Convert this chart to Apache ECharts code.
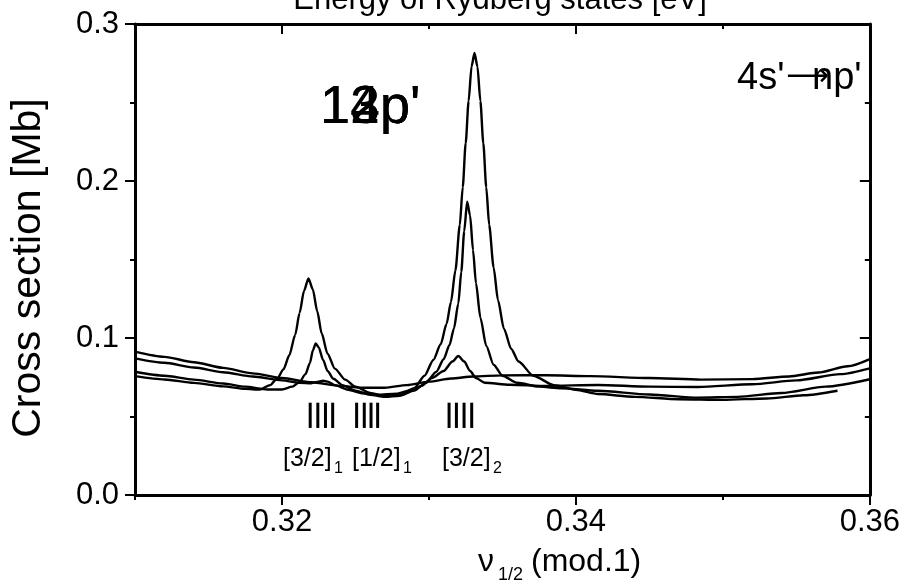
<!DOCTYPE html>
<html>
<head>
<meta charset="utf-8">
<title>Cross section vs effective quantum number</title>
<script src="https://cdn.jsdelivr.net/npm/echarts@6/dist/echarts.min.js"></script>
<style>
  html, body { margin: 0; padding: 0; background: #fff; }
  #chart { width: 903px; height: 584px; }
</style>
</head>
<body>
<div id="chart"></div>
<script>
// Photoionization cross sections [Mb] versus nu_1/2 (mod.1), 4s' -> np' excitation
const curve12 = [
  [0.3100,0.0757],[0.3120,0.0736],[0.3140,0.0714],[0.3160,0.0692],[0.3175,0.0676],
  [0.3185,0.0672],[0.3192,0.0700],[0.3197,0.0745],[0.3201,0.0800],[0.3205,0.0890],
  [0.3209,0.1020],[0.3212,0.1160],[0.3215,0.1300],[0.3218,0.1380],[0.3221,0.1310],
  [0.3224,0.1170],[0.3227,0.1030],[0.3231,0.0900],[0.3236,0.0805],[0.3243,0.0735],
  [0.3250,0.0690],[0.3260,0.0650],[0.3270,0.0630],[0.3280,0.0635],[0.3290,0.0680],
  [0.3297,0.0760],[0.3303,0.0860],[0.3308,0.0960],[0.3312,0.1090],[0.3315,0.1230],
  [0.3318,0.1430],[0.3321,0.1720],[0.3323,0.1960],[0.3325,0.2240],[0.3327,0.2510],
  [0.3329,0.2730],[0.3331,0.2815],[0.3333,0.2730],[0.3335,0.2510],[0.3337,0.2240],
  [0.3339,0.1960],[0.3341,0.1720],[0.3344,0.1450],[0.3347,0.1240],[0.3351,0.1060],
  [0.3356,0.0930],[0.3361,0.0850],[0.3371,0.0760],[0.3385,0.0700],[0.3400,0.0670],
  [0.3415,0.0643],[0.3440,0.0625],[0.3470,0.0610],[0.3500,0.0606],[0.3530,0.0615],
  [0.3555,0.0635],[0.3578,0.0664]
];
const curve13 = [
  [0.3100,0.0785],[0.3120,0.0760],[0.3140,0.0735],[0.3160,0.0710],[0.3175,0.0690],
  [0.3190,0.0672],[0.3200,0.0672],[0.3207,0.0690],[0.3212,0.0720],[0.3216,0.0770],
  [0.3219,0.0840],[0.3221,0.0920],[0.3223,0.0966],[0.3225,0.0940],[0.3228,0.0860],
  [0.3231,0.0790],[0.3235,0.0740],[0.3241,0.0700],[0.3250,0.0665],[0.3260,0.0638],
  [0.3270,0.0625],[0.3280,0.0632],[0.3290,0.0665],[0.3298,0.0715],[0.3305,0.0785],
  [0.3310,0.0865],[0.3314,0.0955],[0.3317,0.1060],[0.3320,0.1220],[0.3322,0.1420],
  [0.3324,0.1680],[0.3326,0.1868],[0.3328,0.1780],[0.3330,0.1560],[0.3332,0.1350],
  [0.3335,0.1130],[0.3339,0.0950],[0.3344,0.0830],[0.3350,0.0760],[0.3360,0.0715],
  [0.3375,0.0690],[0.3390,0.0680],[0.3415,0.0664],[0.3450,0.0640],[0.3483,0.0620],
  [0.3510,0.0625],[0.3540,0.0650],[0.3570,0.0690],[0.3600,0.0737]
];
const curve14 = [
  [0.3100,0.0870],[0.3120,0.0842],[0.3140,0.0812],[0.3160,0.0782],[0.3180,0.0755],
  [0.3200,0.0730],[0.3212,0.0715],[0.3220,0.0712],[0.3225,0.0722],[0.3228,0.0728],
  [0.3231,0.0722],[0.3236,0.0700],[0.3245,0.0670],[0.3255,0.0648],[0.3265,0.0638],
  [0.3278,0.0645],[0.3288,0.0668],[0.3295,0.0695],[0.3302,0.0745],[0.3310,0.0790],
  [0.3316,0.0850],[0.3320,0.0885],[0.3324,0.0850],[0.3328,0.0790],[0.3332,0.0745],
  [0.3338,0.0715],[0.3355,0.0702],[0.3380,0.0695],[0.3415,0.0701],[0.3450,0.0690],
  [0.3483,0.0688],[0.3520,0.0705],[0.3550,0.0730],[0.3580,0.0770],[0.3600,0.0807]
];
const curve15 = [
  [0.3100,0.0913],[0.3120,0.0880],[0.3140,0.0846],[0.3160,0.0810],[0.3180,0.0775],
  [0.3200,0.0745],[0.3220,0.0718],[0.3240,0.0695],[0.3255,0.0683],[0.3270,0.0683],
  [0.3285,0.0700],[0.3300,0.0722],[0.3315,0.0742],[0.3330,0.0755],[0.3350,0.0762],
  [0.3380,0.0763],[0.3410,0.0757],[0.3450,0.0745],[0.3485,0.0735],[0.3520,0.0738],
  [0.3545,0.0755],[0.3565,0.0780],[0.3585,0.0820],[0.3600,0.0866]
];

// Positions of the Rydberg levels (nu_1/2 mod 1) for each series limit
const levels32a = [0.32192, 0.32244, 0.32296, 0.32345];
const levels12 = [0.32508, 0.32560, 0.32606, 0.32651];
const levels32b = [0.33137, 0.33187, 0.33239, 0.33291];

const xTicksMajor = [0.32, 0.34, 0.36];
const xTicksMinor = [0.31, 0.33, 0.35];
const curveNames = ["12p'", "13p'", "14p'"];

const FONT = "'Liberation Sans', Arial, Helvetica, sans-serif";
const LEVEL_BAR = [0.0427, 0.0588];

const chart = echarts.init(document.getElementById('chart'), null, { renderer: 'canvas' });

const axisLine = { show: true, lineStyle: { color: '#000', width: 3 } };
const xRange = { min: 0.31, max: 0.36, interval: 0.01 };

function curveSeries(name, data) {
  return {
    name: name, type: 'line', data: data, xAxisIndex: 0, yAxisIndex: 0,
    showSymbol: false, smooth: 0.25, smoothMonotone: 'x',
    lineStyle: { color: '#000', width: 2.4 }, z: 3, silent: true
  };
}

const levelData = [].concat(levels32a, levels12, levels32b).map(v => [v, LEVEL_BAR[0]]);

function txt(x, y, text, size, family) {
  return { type: 'text', x: x, y: y,
    style: { text: text, font: size + 'px ' + (family || FONT), fill: '#000', align: 'left', verticalAlign: 'middle' } };
}

chart.setOption({
  animation: false,
  backgroundColor: '#fff',
  grid: { left: 135, right: 31, top: 24, bottom: 89, containLabel: false },
  xAxis: [
    Object.assign({ type: 'value', position: 'bottom', axisLine: axisLine,
      axisTick: { show: true, inside: false, length: 10, customValues: xTicksMajor,
        lineStyle: { color: '#000', width: 2 } },
      axisLabel: { show: true, customValues: xTicksMajor, formatter: v => v.toFixed(2),
        color: '#000', fontSize: 31, fontFamily: FONT, margin: 12 },
      splitLine: { show: false } }, xRange),
    Object.assign({ type: 'value', position: 'bottom', axisLine: { show: false },
      axisTick: { show: true, inside: false, length: 5, customValues: xTicksMinor,
        lineStyle: { color: '#000', width: 2 } },
      axisLabel: { show: false }, splitLine: { show: false } }, xRange),
    Object.assign({ type: 'value', position: 'top', axisLine: axisLine,
      axisTick: { show: true, inside: true, length: 10, customValues: [0.32, 0.34],
        lineStyle: { color: '#000', width: 2 } },
      axisLabel: { show: false }, splitLine: { show: false } }, xRange),
    Object.assign({ type: 'value', position: 'top', axisLine: { show: false },
      axisTick: { show: true, inside: true, length: 5, customValues: [0.33, 0.35],
        lineStyle: { color: '#000', width: 2 } },
      axisLabel: { show: false }, splitLine: { show: false } }, xRange)
  ],
  yAxis: [
    { type: 'value', position: 'left', min: 0, max: 0.3, interval: 0.1,
      axisLine: axisLine,
      axisTick: { show: true, inside: false, length: 10, lineStyle: { color: '#000', width: 2 } },
      minorTick: { show: true, splitNumber: 2, length: 5, lineStyle: { color: '#000', width: 2 } },
      axisLabel: { formatter: v => v.toFixed(1), color: '#000', fontSize: 31, fontFamily: FONT, margin: 16 },
      splitLine: { show: false }, minorSplitLine: { show: false } },
    { type: 'value', position: 'right', min: 0, max: 0.3, interval: 0.1,
      axisLine: axisLine,
      axisTick: { show: true, inside: true, length: 10, lineStyle: { color: '#000', width: 2 } },
      minorTick: { show: true, splitNumber: 2, length: 5, lineStyle: { color: '#000', width: 2 } },
      axisLabel: { show: false }, splitLine: { show: false }, minorSplitLine: { show: false } }
  ],
  series: [
    curveSeries('n12', curve12),
    curveSeries('n13', curve13),
    curveSeries('n14', curve14),
    curveSeries('n15', curve15),
    {
      type: 'custom', xAxisIndex: 0, yAxisIndex: 0, silent: true, z: 4,
      data: levelData,
      encode: { x: 0, y: 1 },
      renderItem: function (params, api) {
        const x = api.value(0);
        const p0 = api.coord([x, LEVEL_BAR[1]]);
        const p1 = api.coord([x, LEVEL_BAR[0]]);
        return { type: 'line', shape: { x1: p0[0], y1: p0[1], x2: p1[0], y2: p1[1] },
          style: { stroke: '#000', lineWidth: 3 } };
      }
    }
  ],
  graphic: [
    // top axis title (energy scale)
    { type: 'text', x: 500, y: 0, style: { text: 'Energy of Rydberg states [eV]', font: '31px ' + FONT,
      fill: '#000', align: 'center', verticalAlign: 'middle' } },
    // y axis title
    { type: 'text', x: 29, y: 268, rotation: Math.PI / 2,
      style: { text: 'Cross section [Mb]', font: '41px ' + FONT, fill: '#000',
        align: 'center', verticalAlign: 'middle' } },
    // x axis title nu_1/2 (mod.1)
    txt(478, 562, 'ν', 32),
    txt(498, 575, '1/2', 18),
    txt(531, 562, '(mod.1)', 32),
    // transition label 4s' -> np'
    txt(737, 79, "4s'", 38),
    txt(786, 77, '⟶', 30, "'DejaVu Sans', sans-serif"),
    txt(812, 79, "np'", 38),
    // overlapping curve labels
    ...curveNames.map(t => txt(320, 108, t, 54)),
    // level group labels
    txt(283, 459, '[3/2]', 25), txt(334, 469, '1', 16),
    txt(352, 459, '[1/2]', 25), txt(403, 469, '1', 16),
    txt(442, 459, '[3/2]', 25), txt(493, 469, '2', 16)
  ]
});
</script>
</body>
</html>
